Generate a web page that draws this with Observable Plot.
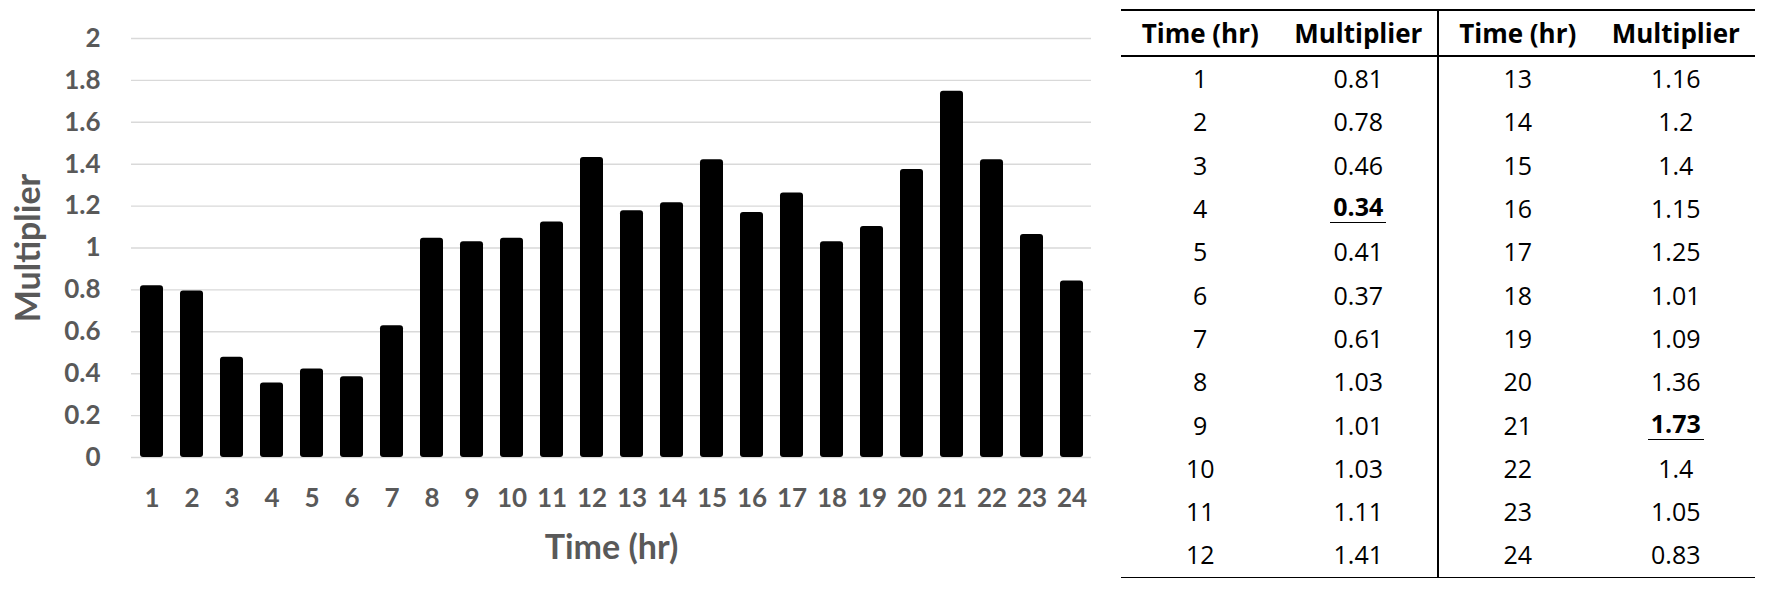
<!DOCTYPE html>
<html>
<head>
<meta charset="utf-8">
<script src="https://cdn.jsdelivr.net/npm/d3@7"></script>
<script src="https://cdn.jsdelivr.net/npm/@observablehq/plot@0.6"></script>
<style>
  html, body { margin: 0; padding: 0; background: #fff; }
  body { width: 1767px; height: 589px; position: relative; overflow: hidden; }
  #chart { position: absolute; left: 0; top: 0; }
  #tbl {
    position: absolute; left: 1121px; top: 9px;
    border-collapse: collapse; table-layout: fixed; width: 634px;
    font-family: "Open Sans", "Noto Sans", sans-serif; font-size: 25px; color: #000;
  }
  #tbl col { width: 158.5px; }
  #tbl th {
    font-weight: 700; font-size: 26px; height: 44px; padding: 0; text-align: center;
    border-top: 2px solid #000; border-bottom: 2px solid #000; line-height: 1;
  }
  #tbl td { height: 43.3px; padding: 0; text-align: center; line-height: 1; }
  #tbl tbody tr:last-child td { border-bottom: 1.5px solid #000; }
  #tbl .c1 { border-right: 2px solid #000; }
  #tbl .hl { font-weight: 700; display: inline-block; border-bottom: 1.5px solid #000; padding: 0 3px 3px; line-height: 1; }
</style>
</head>
<body>
<div id="chart"></div>
<table id="tbl"></table>
<script>
// ---- data ----
const hours = [1, 2, 3, 4, 5, 6, 7, 8, 9, 10, 11, 12, 13, 14, 15, 16, 17, 18, 19, 20, 21, 22, 23, 24];
// bar heights
const barValues = [0.82, 0.795, 0.478, 0.356, 0.422, 0.386, 0.629, 1.046, 1.03, 1.046, 1.124, 1.432,
                   1.178, 1.216, 1.421, 1.17, 1.262, 1.03, 1.103, 1.375, 1.748, 1.421, 1.065, 0.843];
// multipliers as printed in the table
const tableMultipliers = [0.81, 0.78, 0.46, 0.34, 0.41, 0.37, 0.61, 1.03, 1.01, 1.03, 1.11, 1.41,
                          1.16, 1.2, 1.4, 1.15, 1.25, 1.01, 1.09, 1.36, 1.73, 1.4, 1.05, 0.83];
const yTicks = [0, 0.2, 0.4, 0.6, 0.8, 1, 1.2, 1.4, 1.6, 1.8, 2];
const xTitle = "Time (hr)";
const yTitle = "Multiplier";
const tableHeaders = ["Time (hr)", "Multiplier", "Time (hr)", "Multiplier"];

// ---- chart ----
const barData = hours.map((h, i) => ({hour: h, value: barValues[i]}));

const chart = Plot.plot({
  width: 1100,
  height: 589,
  marginLeft: 131,
  marginRight: 9,
  marginTop: 38,
  marginBottom: 132,
  style: {fontFamily: "Lato", fontWeight: "bold", color: "#595959", background: "transparent", overflow: "visible"},
  x: {type: "band", domain: hours, paddingInner: 0.425, paddingOuter: 0.2125, label: null},
  y: {domain: [0, 2], label: null},
  marks: [
    Plot.gridY(yTicks, {stroke: "#d9d9d9", strokeOpacity: 1, strokeWidth: 1.4}),
    Plot.barY(barData, {x: "hour", y: "value", fill: "#000", rx: 3}),
    Plot.axisY(yTicks, {tickSize: 0, tickPadding: 31, fontSize: 26, tickFormat: d3.format("~g"), label: null}),
    Plot.axisX(hours, {tickSize: 0, tickPadding: 31, fontSize: 26, label: null}),
    Plot.text([yTitle], {frameAnchor: "left", text: d => d, rotate: -90, textAnchor: "middle", lineAnchor: "middle",
                         dx: -102, fontSize: 34, fill: "#595959"}),
    Plot.text([xTitle], {frameAnchor: "bottom", text: d => d, textAnchor: "middle", lineAnchor: "middle",
                         dy: 91, fontSize: 34, fill: "#595959"})
  ]
});
document.getElementById("chart").appendChild(chart);

// ---- table ----
const tbl = document.getElementById("tbl");
const colgroup = document.createElement("colgroup");
tableHeaders.forEach(() => colgroup.appendChild(document.createElement("col")));
tbl.appendChild(colgroup);
const thead = tbl.createTHead();
const hr = thead.insertRow();
tableHeaders.forEach((h, i) => {
  const th = document.createElement("th");
  th.textContent = h;
  th.className = "c" + i;
  hr.appendChild(th);
});
const minV = d3.min(tableMultipliers), maxV = d3.max(tableMultipliers);
const tbody = tbl.createTBody();
const half = hours.length / 2;
for (let r = 0; r < half; r++) {
  const tr = tbody.insertRow();
  const cells = [hours[r], tableMultipliers[r], hours[r + half], tableMultipliers[r + half]];
  cells.forEach((v, i) => {
    const td = tr.insertCell();
    td.className = "c" + i;
    if ((i === 1 || i === 3) && (v === minV || v === maxV)) {
      const s = document.createElement("span");
      s.className = "hl";
      s.textContent = String(v);
      td.appendChild(s);
    } else {
      td.textContent = String(v);
    }
  });
}
</script>
</body>
</html>
